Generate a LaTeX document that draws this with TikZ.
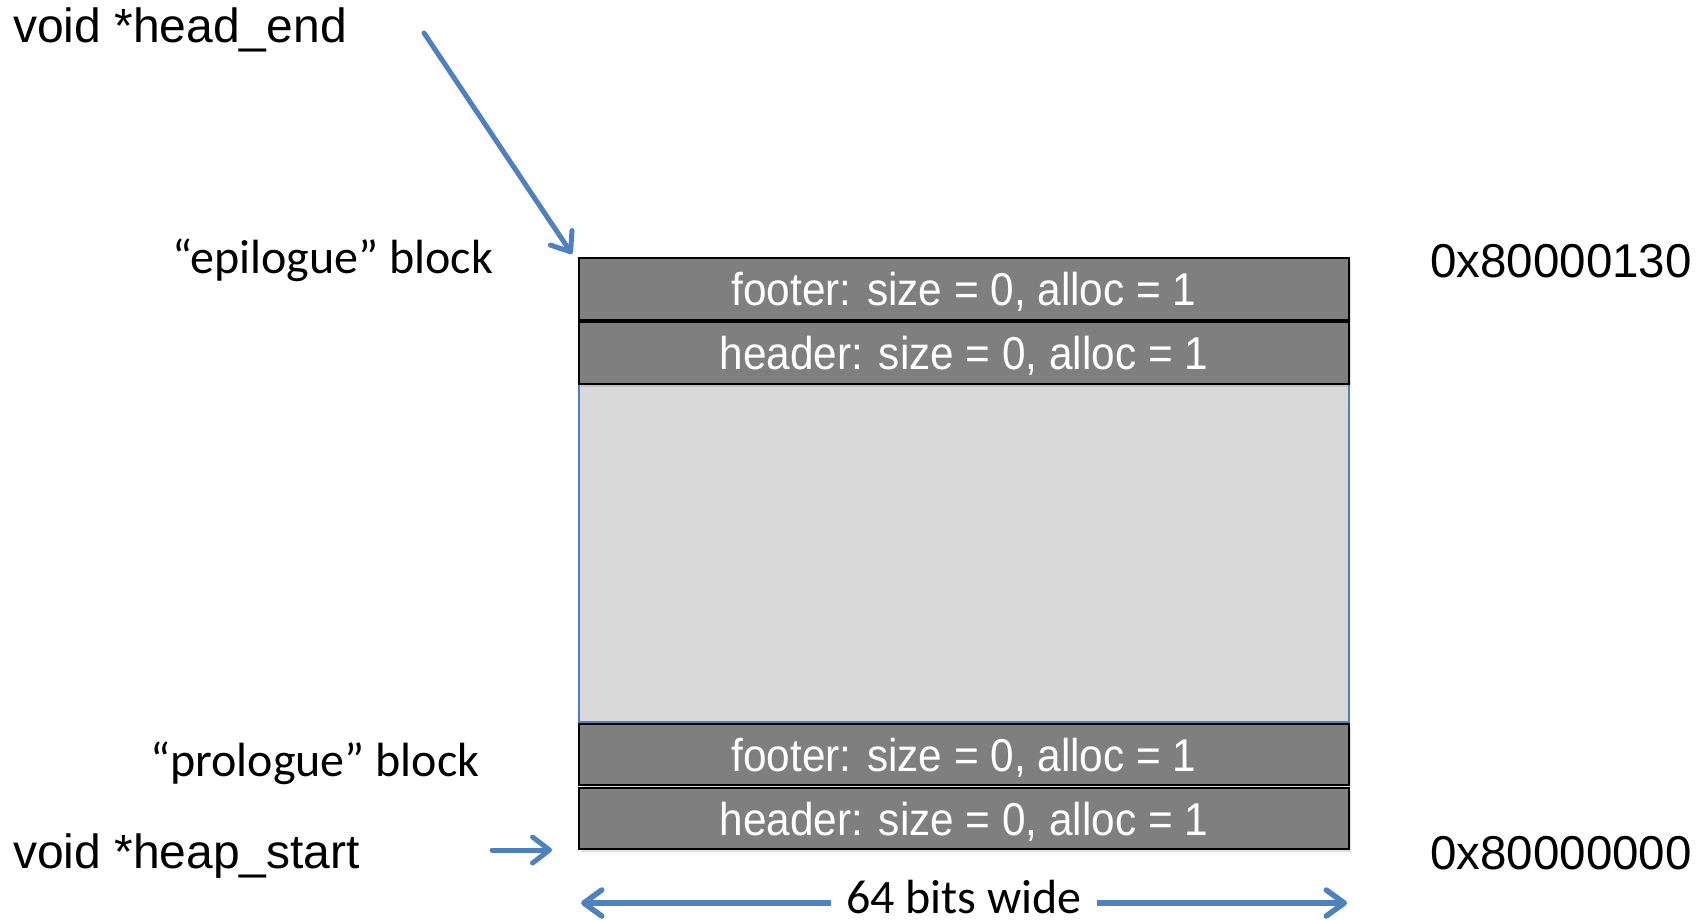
\documentclass[tikz,border=0pt]{standalone}
\usepackage{fontspec}
\setmainfont{Liberation Sans}
\newfontfamily\arialf{Liberation Sans}
\newfontfamily\narrowf[FakeStretch=0.92]{Liberation Sans}
\newfontfamily\calf{Carlito}
\usetikzlibrary{arrows.meta,shadows}
\definecolor{blkgray}{HTML}{7F7F7F}
\definecolor{arrblue}{HTML}{4F81BD}
\definecolor{midgray}{HTML}{D9D9D9}
\begin{document}
\begin{tikzpicture}[x=1pt,y=-1pt,
  blockbox/.style={draw=black, line width=1.5pt, fill=blkgray, text=white,
    minimum width=770pt, inner sep=0pt, text depth=0pt,
    font=\narrowf\fontsize{46}{50}\selectfont,
    drop shadow={shadow xshift=1.5pt, shadow yshift=-3pt, opacity=0.25}},
  midbox/.style={draw=arrblue, line width=1.2pt, fill=midgray,
    minimum width=770pt, inner sep=0pt},
  lbl/.style={inner sep=0pt, font=\arialf\fontsize{48}{50}\selectfont},
  clbl/.style={inner sep=0pt, font=\calf\fontsize{48}{50}\selectfont},
  arr/.style={draw=arrblue, line width=5pt, line cap=round,
    -{Straight Barb[length=17pt,width=26pt,round]}},
  warr/.style={draw=arrblue, line width=5.5pt,
    -{Straight Barb[length=18pt,width=26pt,round]}}
]
\useasboundingbox (0,0) rectangle (1704,920);

% memory blocks
\node[midbox, minimum height=338pt] (mid) at (964,553) {};
\node[blockbox, minimum height=62pt] (f1) at (964,289) {footer: size = 0, alloc = 1};
\node[blockbox, minimum height=62pt] (h1) at (964,353) {header: size = 0, alloc = 1};
\node[blockbox, minimum height=61pt] (f2) at (964,754.5) {footer: size = 0, alloc = 1};
\node[blockbox, minimum height=61pt] (h2) at (964,818.5) {header: size = 0, alloc = 1};

% labels
\node[lbl, anchor=base west] (he) at (13,43) {void *head\_end};
\node[lbl, anchor=base west] (hs) at (13,868) {void *heap\_start};
\node[clbl, anchor=base west] (epi) at (172,273) {“epilogue” block};
\node[clbl, anchor=base west] (pro) at (150,776) {“prologue” block};
\node[lbl, anchor=base west, font=\arialf\fontsize{47.5}{50}\selectfont] (a1) at (1430,277) {0x80000130};
\node[lbl, anchor=base west, font=\arialf\fontsize{47.5}{50}\selectfont] (a0) at (1430,869) {0x80000000};

% width arrow
\node[clbl, anchor=base, inner xsep=15pt] (w) at (964,913) {64 bits wide};
\coordinate (wl) at (581,903);
\coordinate (wr) at (1347,903);
\draw[warr] (w.west |- wl) -- (wl);
\draw[warr] (w.east |- wr) -- (wr);

% pointer arrows
\coordinate (hes) at (424,33);
\coordinate (het) at (572,254);
\draw[arr] (hes) -- (het);
\coordinate (hss) at (492,850);
\coordinate (hst) at (552,850);
\draw[arr] (hss) -- (hst);
\end{tikzpicture}
\end{document}
